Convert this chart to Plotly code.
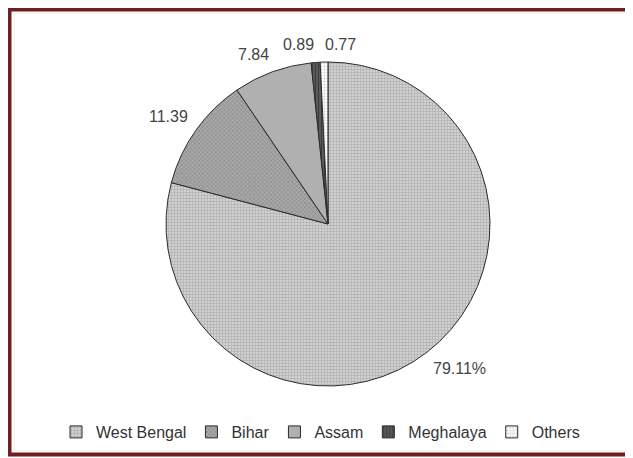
import math
import plotly.graph_objects as go

states = ["West Bengal", "Bihar", "Assam", "Meghalaya", "Others"]
shares = [79.11, 11.39, 7.84, 0.89, 0.77]
label_text = ["79.11%", "11.39", "7.84", "0.89", "0.77"]

bg_colors = ["#d0d0d0", "#a9a9a9", "#b0b0b0", "#5a5a5a", "#ffffff"]
fg_colors = ["#888888", "#5e5e5e", "#b0b0b0", "#1e1e1e", "#9a9a9a"]
shapes_pat = ["+", "x", "", "|", "."]

# page body has an 8px margin, so the figure is drawn 8px in from the window edge
W, H = 625, 450
cx, cy, r = 320, 216, 162

fig = go.Figure(go.Pie(
    labels=states,
    values=shares,
    textinfo="none",
    sort=False,
    direction="clockwise",
    rotation=0,
    marker=dict(
        colors=bg_colors,
        line=dict(color="#2b2b2b", width=1),
        pattern=dict(shape=shapes_pat, fgcolor=fg_colors, bgcolor=bg_colors,
                     size=3, solidity=0.35, fillmode="overlay"),
    ),
    domain=dict(x=[(cx - r) / W, (cx + r) / W], y=[(H - cy - r) / H, (H - cy + r) / H]),
    hoverinfo="label+percent",
))

# data labels placed just outside each slice, at the slice's mid angle
total = sum(shares)
cum = 0.0
annotations = []
prev_anchor_right = False
for i, v in enumerate(shares):
    mid = (cum + v / 2) / total * 2 * math.pi
    cum += v
    s, c = math.sin(mid), math.cos(mid)
    d = 8
    px = cx + (r + d) * s
    py = (H - cy) + (r + d) * c
    if s < 0 and not (prev_anchor_right and abs(s) < 0.05):
        xa = "right"
    else:
        xa = "left"
    prev_anchor_right = xa == "right" and abs(s) < 0.1
    ya = "bottom" if c > 0.1 else ("top" if c < -0.1 else "middle")
    annotations.append(dict(
        x=px / W, y=py / H, xref="paper", yref="paper",
        text=label_text[i], showarrow=False,
        xanchor=xa, yanchor=ya, borderpad=0,
        font=dict(family="Liberation Sans, Arial", size=16, color="#444444"),
    ))

fig.update_layout(
    width=W, height=H,
    margin=dict(l=0, r=0, t=0, b=0),
    paper_bgcolor="white",
    font=dict(family="Liberation Sans, Arial", size=16, color="#333333"),
    showlegend=True,
    legend=dict(orientation="h", x=0.5, xanchor="center", y=(H - 424) / H, yanchor="middle",
                font=dict(size=16, color="#333333"), itemwidth=30,
                traceorder="normal"),
    annotations=annotations,
    shapes=[
        dict(type="rect", xref="paper", yref="paper",
             x0=6 / W, x1=(W - 2) / W, y0=(H - 443) / H, y1=(H - 5) / H,
             line=dict(color="#ececec", width=1), fillcolor="rgba(0,0,0,0)"),
        dict(type="rect", xref="paper", yref="paper",
             x0=1.5 / W, x1=1.05, y0=(H - 446.5) / H, y1=(H - 1.5) / H,
             line=dict(color="#6e1f22", width=4), fillcolor="rgba(0,0,0,0)"),
    ],
)

fig.write_html("out.html")
